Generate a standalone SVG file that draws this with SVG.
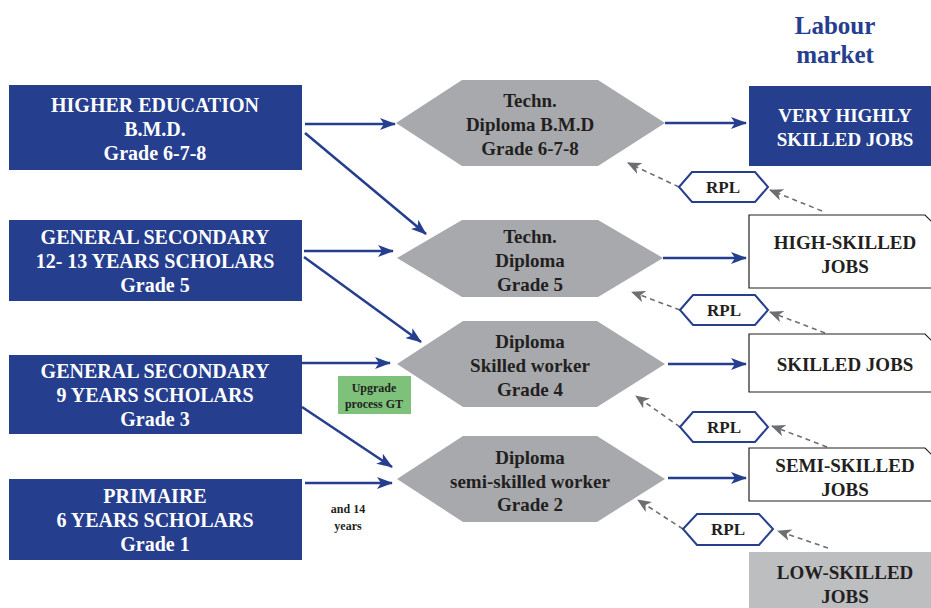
<svg xmlns="http://www.w3.org/2000/svg" width="931" height="608" viewBox="0 0 931 608" font-family="Liberation Serif">
<defs>
<style>
text{font-family:'Liberation Serif',serif;font-weight:bold;text-anchor:middle}
.lb{fill:#253e8e}
.lt{fill:#ffffff;font-size:20px}
.hx{fill:#a7a9ac}
.ht{fill:#231f20;font-size:19px}
.rb{fill:#ffffff;stroke:#231f20;stroke-width:1.2}
.rt{fill:#231f20;font-size:19px}
.rpl{fill:#ffffff;stroke:#253e8e;stroke-width:2}
.rplt{fill:#231f20;font-size:17px}
.sm{fill:#231f20;font-size:12px}
.ttl{fill:#253e8e;font-size:25px}
.ba{stroke:#253e8e;stroke-width:2.5;fill:none;marker-end:url(#ab)}
.ga{stroke:#6d6e71;stroke-width:1.6;stroke-dasharray:5 4;fill:none;marker-end:url(#ag)}
</style>
<marker id="ab" viewBox="0 0 16 12" refX="15" refY="6" markerWidth="16" markerHeight="12" markerUnits="userSpaceOnUse" orient="auto">
<path d="M0,0 L16,6 L0,12 L4,6 Z" fill="#253e8e"/>
</marker>
<marker id="ag" viewBox="0 0 14 12" refX="13" refY="6" markerWidth="14" markerHeight="12" markerUnits="userSpaceOnUse" orient="auto">
<path d="M0,0 L14,6 L0,12 L4,6 Z" fill="#6d6e71"/>
</marker>
</defs>
<rect width="931" height="608" fill="#ffffff"/>

<g id="title">
<text class="ttl" x="835" y="34">Labour</text>
<text class="ttl" x="835" y="63">market</text>
</g>

<g id="connectors">
<line class="ba" x1="305" y1="124" x2="395" y2="124"/>
<line class="ba" x1="305" y1="133" x2="426" y2="234"/>
<line class="ba" x1="304" y1="251" x2="393" y2="251"/>
<line class="ba" x1="304" y1="257" x2="421" y2="342"/>
<line class="ba" x1="302" y1="363" x2="390" y2="363"/>
<line class="ba" x1="302" y1="407" x2="392" y2="467"/>
<line class="ba" x1="305" y1="483" x2="392" y2="483"/>
<line class="ba" x1="665" y1="123" x2="746" y2="123"/>
<line class="ba" x1="663" y1="258" x2="746" y2="258"/>
<line class="ba" x1="668" y1="364" x2="746" y2="364"/>
<line class="ba" x1="668" y1="478" x2="746" y2="478"/>
<line class="ga" x1="822" y1="211" x2="770" y2="190"/>
<line class="ga" x1="679" y1="187" x2="628" y2="163"/>
<line class="ga" x1="825" y1="333" x2="770" y2="312"/>
<line class="ga" x1="680" y1="310" x2="632" y2="292"/>
<line class="ga" x1="827" y1="447" x2="772" y2="426"/>
<line class="ga" x1="680" y1="427" x2="636" y2="396"/>
<line class="ga" x1="828" y1="548" x2="778" y2="531"/>
<line class="ga" x1="683" y1="529" x2="638" y2="500"/>
</g>

<g id="higher-education">
<rect class="lb" x="9" y="85" width="293" height="85"/>
<text class="lt" x="155" y="112">HIGHER EDUCATION</text>
<text class="lt" x="155" y="136">B.M.D.</text>
<text class="lt" x="155" y="160">Grade 6-7-8</text>
</g>
<g id="general-secondary-12">
<rect class="lb" x="9" y="220" width="293" height="81"/>
<text class="lt" x="155" y="244">GENERAL SECONDARY</text>
<text class="lt" x="155" y="268">12- 13 YEARS SCHOLARS</text>
<text class="lt" x="155" y="292">Grade 5</text>
</g>
<g id="general-secondary-9">
<rect class="lb" x="9" y="355" width="293" height="79"/>
<text class="lt" x="155" y="378">GENERAL SECONDARY</text>
<text class="lt" x="155" y="402">9 YEARS SCHOLARS</text>
<text class="lt" x="155" y="426">Grade 3</text>
</g>
<g id="primaire">
<rect class="lb" x="9" y="479" width="293" height="81"/>
<text class="lt" x="155" y="503">PRIMAIRE</text>
<text class="lt" x="155" y="527">6 YEARS SCHOLARS</text>
<text class="lt" x="155" y="551">Grade 1</text>
</g>

<g id="upgrade">
<rect x="338" y="376" width="73" height="38" fill="#7dc17a"/>
<text class="sm" x="374" y="392">Upgrade</text>
<text class="sm" x="374" y="408">process GT</text>
</g>
<g id="age-note">
<text class="sm" x="348" y="513">and 14</text>
<text class="sm" x="348" y="530">years</text>
</g>

<g id="techn-diploma-bmd">
<polygon class="hx" points="396,123 462,80 598,80 665,123 598,166 462,166"/>
<text class="ht" x="530" y="107">Techn.</text>
<text class="ht" x="530" y="131">Diploma B.M.D</text>
<text class="ht" x="530" y="155">Grade 6-7-8</text>
</g>
<g id="techn-diploma">
<polygon class="hx" points="397,258 462,220 598,220 663,258 598,297 462,297"/>
<text class="ht" x="530" y="243">Techn.</text>
<text class="ht" x="530" y="267">Diploma</text>
<text class="ht" x="530" y="291">Grade 5</text>
</g>
<g id="diploma-skilled">
<polygon class="hx" points="397,364 463,321 597,321 665,364 597,407 463,407"/>
<text class="ht" x="530" y="348">Diploma</text>
<text class="ht" x="530" y="372">Skilled worker</text>
<text class="ht" x="530" y="396">Grade 4</text>
</g>
<g id="diploma-semi-skilled">
<polygon class="hx" points="397,479 463,436 597,436 665,479 597,522 463,522"/>
<text class="ht" x="530" y="464">Diploma</text>
<text class="ht" x="530" y="488">semi-skilled worker</text>
<text class="ht" x="530" y="511">Grade 2</text>
</g>

<g id="very-highly-skilled">
<rect class="lb" x="749" y="86" width="190" height="80"/>
<text class="lt" x="845" y="122" style="font-size:19px">VERY HIGHLY</text>
<text class="lt" x="845" y="146" style="font-size:19px">SKILLED JOBS</text>
</g>
<g id="high-skilled">
<path class="rb" d="M749,215 H925 L935,225 V288 H749 Z"/>
<text class="rt" x="845" y="249">HIGH-SKILLED</text>
<text class="rt" x="845" y="273">JOBS</text>
</g>
<g id="skilled">
<path class="rb" d="M749,334 H925 L935,344 V392 H749 Z"/>
<text class="rt" x="845" y="371">SKILLED JOBS</text>
</g>
<g id="semi-skilled">
<path class="rb" d="M749,448 H925 L935,458 V501 H749 Z"/>
<text class="rt" x="845" y="472">SEMI-SKILLED</text>
<text class="rt" x="845" y="496">JOBS</text>
</g>
<g id="low-skilled">
<rect x="749" y="552" width="190" height="60" fill="#bcbec0"/>
<text class="rt" x="845" y="579">LOW-SKILLED</text>
<text class="rt" x="845" y="603">JOBS</text>
</g>

<g id="rpl-1">
<polygon class="rpl" points="679,187 692,172 755,172 768,187 755,202 692,202"/>
<text class="rplt" x="723" y="193">RPL</text>
</g>
<g id="rpl-2">
<polygon class="rpl" points="680,310 693,295 755,295 768,310 755,325 693,325"/>
<text class="rplt" x="724" y="316">RPL</text>
</g>
<g id="rpl-3">
<polygon class="rpl" points="680,427 693,412 755,412 768,427 755,442 693,442"/>
<text class="rplt" x="724" y="433">RPL</text>
</g>
<g id="rpl-4">
<polygon class="rpl" points="683,529 697,514 759,514 773,529 759,545 697,545"/>
<text class="rplt" x="728" y="535">RPL</text>
</g>
</svg>
